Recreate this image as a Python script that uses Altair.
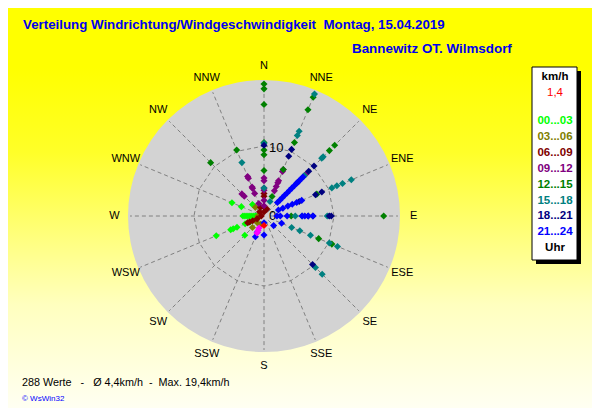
import altair as alt
import pandas as pd

# ---------------- data ----------------
DIRS = ["N", "NNE", "NE", "ENE", "E", "ESE", "SE", "SSE",
        "S", "SSW", "SW", "WSW", "W", "WNW", "NW", "NNW"]

GROUPS = ["00...03", "03...06", "06...09", "09...12",
          "12...15", "15...18", "18...21", "21...24"]
GROUP_COLORS = ["#00FF00", "#808000", "#800000", "#800080",
                "#008000", "#008080", "#000080", "#0000FF"]

# 00...03
g0_dir = ["W", "W", "W", "W", "W", "W", "W", "W", "WNW", "WNW", "NW",
          "WSW", "WSW", "WSW", "WSW", "WSW", "WSW", "WSW", "SW"]
g0_spd = [1.0, 1.3, 1.6, 1.9, 2.2, 2.5, 2.8, 3.1, 3.6, 5.1, 2.4,
          7.6, 5.3, 4.9, 4.3, 3.0, 2.6, 2.2, 4.0]
# 03...06
g1_dir = ["NW", "NNW", "W", "W", "SW", "SW", "SSW", "WSW"]
g1_spd = [1.8, 1.5, 0.6, 0.9, 1.4, 2.4, 1.3, 1.2]
# 06...09
g2_dir = ["N", "N", "N", "N", "NNW", "NNE", "WSW", "WSW", "WSW", "WSW", "W", "NW"]
g2_spd = [2.9, 3.3, 1.3, 0.6, 1.4, 1.1, 2.6, 2.3, 1.8, 1.1, 0.4, 0.9]
# 09...12
g3_dir = ["NNW", "NNW", "NNW", "NNW", "NNW", "NW", "NW", "N", "N", "N", "N",
          "NNE", "NNE", "NNE", "NNE", "NNE", "NNE", "NE", "N", "NNW", "N"]
g3_spd = [6.3, 6.0, 4.6, 4.4, 3.6, 4.6, 4.1, 5.6, 5.2, 4.1, 3.8,
          7.4, 7.1, 5.6, 5.3, 4.7, 4.0, 8.7, 1.5, 2.0, 2.3]
# 12...15
g4_dir = ["N", "N", "N", "N", "N", "N", "N", "NNE", "NNE", "NNE", "NNE", "NNE",
          "NE", "NE", "ENE", "E", "E", "ESE", "ESE", "NNW", "NW"]
g4_spd = [19.4, 18.7, 16.4, 10.8, 9.7, 9.0, 6.7, 18.9, 16.9, 11.7, 7.4, 3.1,
          14.7, 13.6, 8.4, 17.6, 4.0, 8.7, 10.8, 10.5, 11.1]
# 15...18
g5_dir = ["NNE", "NNE", "NNE", "NE", "NE", "NE", "ENE", "ENE", "ENE", "ENE",
          "E", "E", "E", "ESE", "ESE", "ESE", "ESE", "ESE", "SE", "SE",
          "NNW", "N", "N", "NNE"]
g5_spd = [19.4, 13.5, 12.8, 12.0, 12.3, 8.4, 13.9, 12.5, 11.6, 10.8,
          4.6, 5.6, 9.3, 4.4, 5.7, 7.4, 10.4, 11.7, 10.7, 12.1,
          8.5, 4.1, 10.7, 2.3]
# 18...21
g6_dir = ["NNE", "NNE", "N", "NE", "NE", "NE", "ENE", "ENE", "ENE",
          "E", "E", "E", "E", "SE"]
g6_spd = [10.6, 9.5, 10.4, 10.4, 9.3, 7.0, 9.2, 8.2, 5.6,
          6.5, 7.2, 9.6, 9.9, 10.1]
# 21...24
g7_dir = ["NE"] * 12 + ["ENE"] * 6 + ["E"] * 7 + ["ESE", "S", "S", "SSW", "SSW", "SE"]
g7_spd = [2.8, 3.3, 3.8, 4.3, 4.8, 5.3, 5.8, 6.3, 6.8, 7.3, 7.8, 8.1,
          2.3, 3.0, 3.8, 4.5, 5.2, 6.0,
          1.9, 2.4, 3.4, 5.6, 6.0, 6.5, 7.2,
          2.8, 1.0, 2.8, 2.6, 3.3, 2.0]

# current value (red) and last markers (magenta)
cur_dir = ["S"]
cur_spd = [1.4]
last_dir = ["SSW", "SSW", "SSW"]
last_spd = [1.9, 2.3, 2.7]

LEGEND_TITLE = "km/h"
CURRENT_LABEL = "1,4"
UNIT_LABEL = "Uhr"
RING_LABELS = ["0", "10"]
RING_VALUES = [0, 10]

NB = "\u00a0"
TITLE = "Verteilung Windrichtung/Windgeschwindigkeit" + NB + NB + "Montag, 15.04.2019"
SUBTITLE = "Bannewitz OT. Wilmsdorf"
FOOTER = ("288 Werte" + NB * 3 + "-" + NB * 3 + "\u00d8 4,4km/h" + NB * 2 + "-"
          + NB * 2 + "Max. 19,4km/h")
COPYRIGHT = "\u00a9 WsWin32"

# ---------------- tables ----------------
DEG = {d: i * 22.5 for i, d in enumerate(DIRS)}

rows = []
group_lists = [(g0_dir, g0_spd), (g1_dir, g1_spd), (g2_dir, g2_spd), (g3_dir, g3_spd),
               (g4_dir, g4_spd), (g5_dir, g5_spd), (g6_dir, g6_spd), (g7_dir, g7_spd)]
for g, (dl, sl) in zip(GROUPS, group_lists):
    for d, s in zip(dl, sl):
        rows.append({"dir": d, "deg": DEG[d], "spd": s, "grp": g})
for d, s in zip(last_dir, last_spd):
    rows.append({"dir": d, "deg": DEG[d], "spd": s, "grp": "last"})
for d, s in zip(cur_dir, cur_spd):
    rows.append({"dir": d, "deg": DEG[d], "spd": s, "grp": "current"})
points = pd.DataFrame(rows)

dirs_df = pd.DataFrame({"dir": DIRS, "deg": [DEG[d] for d in DIRS]})
ring_df = pd.DataFrame({"deg": [i * 22.5 for i in range(17)], "ord": list(range(17))})
rlab_df = pd.DataFrame({"lbl": RING_LABELS, "r": RING_VALUES})
leg_df = pd.DataFrame({"lbl": GROUPS, "col": GROUP_COLORS, "row": list(range(len(GROUPS)))})
one = pd.DataFrame({"a": [0]})

# ---------------- scales ----------------
PX = 6.8           # pixels per km/h
CX, CY = 256, 208  # centre in chart pixels
W, H = 584, 400
xs = alt.Scale(domain=[-CX / PX, (W - CX) / PX], nice=False, zero=False)
ys = alt.Scale(domain=[-(H - CY) / PX, CY / PX], nice=False, zero=False)


def X(f):
    return alt.X(f, type="quantitative", scale=xs, axis=None)


def Y(f):
    return alt.Y(f, type="quantitative", scale=ys, axis=None)


FONT = "Liberation Sans"

bg = alt.Chart(one).mark_rect(
    fill=alt.LinearGradient(
        gradient="linear", x1=0, x2=0, y1=0, y2=1,
        stops=[alt.GradientStop(offset=0, color="#ffff00"),
               alt.GradientStop(offset=0.15, color="#ffff00"),
               alt.GradientStop(offset=0.36, color="#ffff28"),
               alt.GradientStop(offset=0.58, color="#ffff80"),
               alt.GradientStop(offset=0.74, color="#ffffbe"),
               alt.GradientStop(offset=1, color="#fffff2")])
).encode(x=alt.value(0), x2=alt.value(W), y=alt.value(0), y2=alt.value(H))

disc = alt.Chart(one).transform_calculate(cx="0", cy="0").mark_point(
    shape="circle", filled=True, color="#d3d3d3", opacity=1, size=(2 * 20 * PX) ** 2
).encode(x=X("cx"), y=Y("cy"))

spokes = alt.Chart(dirs_df).transform_calculate(
    x1="0.9*sin(datum.deg*PI/180)", y1="0.9*cos(datum.deg*PI/180)",
    x2="19.7*sin(datum.deg*PI/180)", y2="19.7*cos(datum.deg*PI/180)"
).mark_rule(color="#808080", strokeDash=[4, 3], strokeWidth=1).encode(
    x=X("x1"), y=Y("y1"), x2="x2:Q", y2="y2:Q")

ring = alt.Chart(ring_df).transform_calculate(
    x="10.3*sin(datum.deg*PI/180)", y="10.3*cos(datum.deg*PI/180)"
).mark_line(color="#808080", strokeDash=[4, 3], strokeWidth=1).encode(
    x=X("x"), y=Y("y"), order="ord:Q")

dlabels = alt.Chart(dirs_df).transform_calculate(
    x="22*sin(datum.deg*PI/180)", y="22*cos(datum.deg*PI/180)"
).mark_text(font=FONT, fontSize=11, color="#000000", align="center", baseline="middle").encode(
    x=X("x"), y=Y("y"), text="dir:N")

rlabels = alt.Chart(rlab_df).transform_calculate(x="0", y="datum.r").mark_text(
    font=FONT, fontSize=13, color="#000000", align="left", baseline="middle", dx=5
).encode(x=X("x"), y=Y("y"), text="lbl:N")

pts = alt.Chart(points).transform_calculate(
    x="datum.spd*sin(datum.deg*PI/180)", y="datum.spd*cos(datum.deg*PI/180)"
).mark_point(shape="diamond", filled=True, opacity=1, size=50).encode(
    x=X("x"), y=Y("y"),
    color=alt.Color("grp:N", legend=None,
                    scale=alt.Scale(domain=GROUPS + ["last", "current"],
                                    range=GROUP_COLORS + ["#ff00ff", "#ff0000"])))

shadow = alt.Chart(one).mark_rect(color="#000000").encode(
    x=alt.value(528), x2=alt.value(573), y=alt.value(63), y2=alt.value(256))
box = alt.Chart(one).mark_rect(fill="#ffffff", stroke="#000000", strokeWidth=1).encode(
    x=alt.value(524), x2=alt.value(569), y=alt.value(59), y2=alt.value(252))

leg_title = alt.Chart(one).mark_text(font=FONT, fontSize=11.5, fontWeight="bold", color="#000000",
                                     align="center", baseline="middle").encode(
    x=alt.value(547), y=alt.value(69), text=alt.value(LEGEND_TITLE))
leg_cur = alt.Chart(one).mark_text(font=FONT, fontSize=11.5, color="#ff0000",
                                   align="center", baseline="middle").encode(
    x=alt.value(547), y=alt.value(85), text=alt.value(CURRENT_LABEL))
leg_items = alt.Chart(leg_df).transform_calculate(ypx="113 + datum.row*15.9").mark_text(
    font=FONT, fontSize=11.5, fontWeight="bold", align="center", baseline="middle").encode(
    x=alt.value(547), y=alt.Y("ypx:Q", scale=None), text="lbl:N",
    color=alt.Color("col:N", scale=None))
leg_unit = alt.Chart(one).mark_text(font=FONT, fontSize=11.5, fontWeight="bold", color="#000000",
                                    align="center", baseline="middle").encode(
    x=alt.value(547), y=alt.value(240), text=alt.value(UNIT_LABEL))

title = alt.Chart(one).mark_text(font=FONT, fontSize=13.3, fontWeight="bold", color="#0000ee",
                                 align="left", baseline="middle").encode(
    x=alt.value(15), y=alt.value(17), text=alt.value(TITLE))
subtitle = alt.Chart(one).mark_text(font=FONT, fontSize=13.4, fontWeight="bold", color="#0000ee",
                                    align="left", baseline="middle").encode(
    x=alt.value(344), y=alt.value(41), text=alt.value(SUBTITLE))
footer = alt.Chart(one).mark_text(font=FONT, fontSize=10.8, color="#000000",
                                  align="left", baseline="middle").encode(
    x=alt.value(14), y=alt.value(375), text=alt.value(FOOTER))
copy_ = alt.Chart(one).mark_text(font=FONT, fontSize=8, color="#0000ff",
                                 align="left", baseline="middle").encode(
    x=alt.value(14), y=alt.value(391), text=alt.value(COPYRIGHT))

chart = alt.layer(
    bg, disc, spokes, ring, dlabels, rlabels, pts,
    shadow, box, leg_title, leg_cur, leg_items, leg_unit,
    title, subtitle, footer, copy_
).properties(
    width=W, height=H, padding=0,
    autosize=alt.AutoSizeParams(type="none"),
    background="#ffff00"
).configure_view(strokeWidth=0)

chart.save("out.html", embed_options={"renderer": "svg", "actions": False})
